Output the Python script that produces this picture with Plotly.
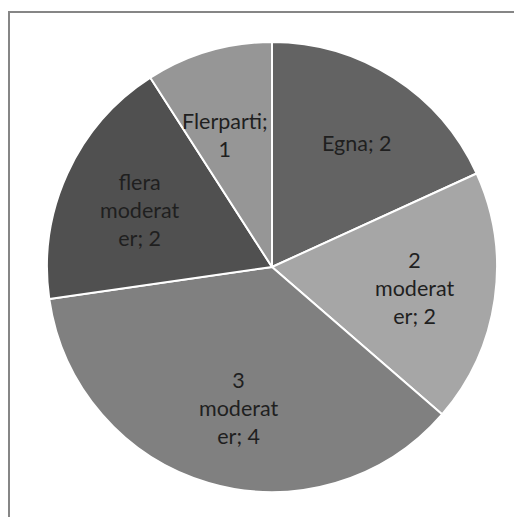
import plotly.graph_objects as go

# slices, clockwise from 12 o'clock
labels = ["Egna", "2 moderater", "3 moderater", "flera moderater", "Flerparti"]
values = [2, 2, 4, 2, 1]
slice_text = ["Egna; 2", "2<br>moderat<br>er; 2", "3<br>moderat<br>er; 4",
              "flera<br>moderat<br>er; 2", "Flerparti;<br>1"]
colors = ["#636363", "#a6a6a6", "#808080", "#505050", "#969696"]

W, H = 522, 517
OFF = 8  # page body margin pushes the figure 8px right/down

# label centres in screen pixels (Excel "best fit" placement)
label_px = [(357, 143), (414, 288), (238, 408), (139, 210), (225, 135)]

fig = go.Figure(
    go.Pie(
        labels=labels,
        values=values,
        textinfo="none",
        sort=False,
        direction="clockwise",
        rotation=0,
        marker=dict(colors=colors, line=dict(color="white", width=2)),
        domain=dict(x=[(47 - OFF) / W, (497 - OFF) / W],
                    y=[1 - (492 - OFF) / H, 1 - (42 - OFF) / H]),
        hoverinfo="label+value",
    )
)

for txt, (px, py) in zip(slice_text, label_px):
    fig.add_annotation(
        text=txt, xref="paper", yref="paper",
        x=(px - OFF) / W, y=1 - (py - OFF) / H,
        xanchor="center", yanchor="middle", align="center",
        showarrow=False,
        font=dict(family="Lato, Noto Sans, sans-serif", size=21.5, color="#1f1f1f"),
    )

# outer frame (right and bottom edges fall outside the picture)
fig.add_shape(type="rect", xref="paper", yref="paper",
              x0=(9 - OFF) / W, x1=1.05, y0=-0.05, y1=1 - (12 - OFF) / H,
              line=dict(color="#868686", width=2))

fig.update_layout(
    width=W,
    height=H,
    margin=dict(l=0, r=0, t=0, b=0),
    paper_bgcolor="white",
    plot_bgcolor="white",
    showlegend=False,
)

fig.write_html("out.html")
